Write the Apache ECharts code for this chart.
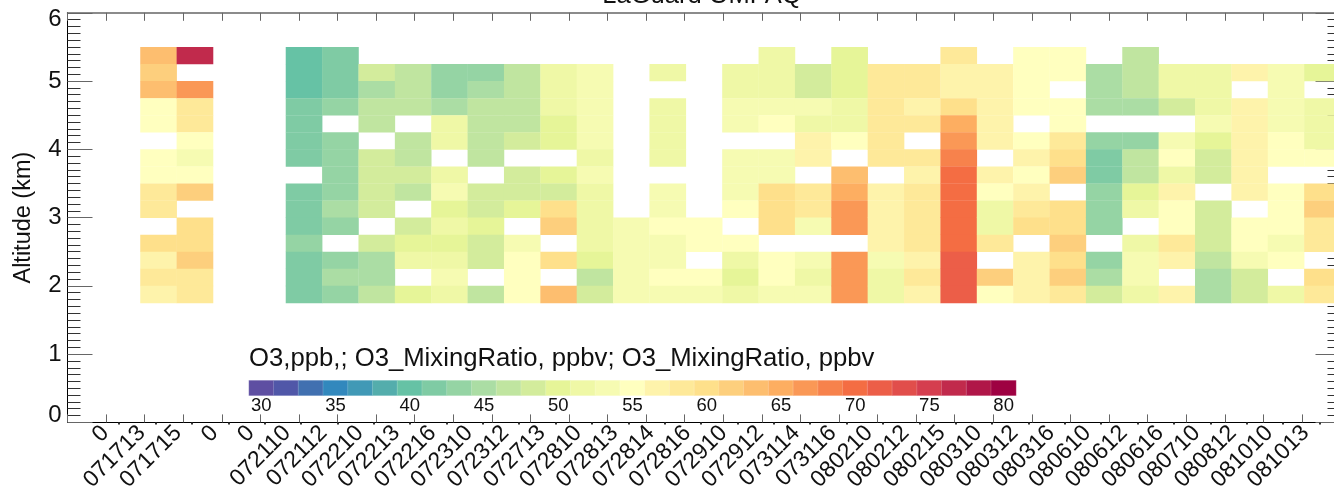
<!DOCTYPE html>
<html><head><meta charset="utf-8">
<style>html,body{margin:0;padding:0;background:#fff;overflow:hidden}#c{width:1334px;height:491px}</style>
<script src="https://cdn.jsdelivr.net/npm/echarts@6/dist/echarts.min.js"></script>
</head><body><div id="c"></div>
<script>
const FONT = '"Liberation Sans", Arial, sans-serif';
const titleText = 'LaGuard OMPAQ';
const colorbarTitle = 'O3,ppb,; O3_MixingRatio, ppbv; O3_MixingRatio, ppbv';
const yName = 'Altitude (km)';
const dates = ['', '0', '071713', '071715', '0', '0', '072110', '072112', '072210', '072213', '072216', '072310', '072312', '072713', '072810', '072813', '072814', '072816', '072910', '072912', '073114', '073116', '080210', '080212', '080215', '080310', '080312', '080316', '080610', '080612', '080616', '080710', '080812', '081010', '081013'];
// Altitude of the row centres, top row first (km)
const altitudes = [5.375, 5.125, 4.875, 4.625, 4.375, 4.125, 3.875, 3.625, 3.375, 3.125, 2.875, 2.625, 2.375, 2.125, 1.875];
const rowHeightKm = 0.25;
const n = null;
// O3 (ppbv) by profile, top row first
const c071713 = [63.3, 61.7, 63.3, 55, 55, n, 55, 55, 58.3, 58.3, n, 60, 56.7, 58.3, 56.7];
const c071715 = [76.7, n, 66.7, 58.3, 58.3, 55, 53.3, 55, 61.7, n, 60, 60, 61.7, 58.3, 58.3];
const c072110 = [40, 40, 40, 41.7, 41.7, 41.7, 41.7, n, 41.7, 41.7, 41.7, 43.3, 41.7, 41.7, 41.7];
const c072112 = [41.7, 41.7, 41.7, 43.3, n, 43.3, 43.3, 43.3, 43.3, 45, 43.3, n, 43.3, 45, 43.3];
const c072210 = [n, 48.3, 45, 46.7, 46.7, n, 48.3, 48.3, 48.3, 48.3, n, 48.3, 45, 45, 46.7];
const c072213 = [n, 46.7, 46.7, 46.7, n, 46.7, 46.7, 48.3, 46.7, n, 48.3, 50, 51.7, n, 50];
const c072216 = [n, 43.3, 43.3, 45, 51.7, 51.7, n, 51.7, 53.3, 50, 51.7, 50, 51.7, 53.3, 51.7];
const c072310 = [n, 43.3, 45, 46.7, 46.7, 46.7, 46.7, n, 48.3, 48.3, 50, 48.3, 48.3, n, 46.7];
const c072312 = [n, 46.7, 46.7, 46.7, 46.7, 48.3, n, 48.3, 48.3, 50, n, 53.3, 55, 55, 55];
const c072713 = [n, 51.7, 51.7, 51.7, 50, 50, n, 50, 48.3, 60, 61.7, n, 60, n, 63.3];
const c072810 = [n, 53.3, 53.3, 53.3, 53.3, 53.3, 51.7, 53.3, 51.7, 51.7, 51.7, 51.7, 50, 46.7, 48.3];
const c072813 = [n, n, n, n, n, n, n, n, n, n, 53.3, 53.3, 53.3, 53.3, 53.3];
const c072814 = [n, 51.7, n, 51.7, 51.7, 51.7, 51.7, n, 53.3, 53.3, 55, 53.3, 53.3, 55, 53.3];
const c072816 = [n, n, n, n, n, n, n, n, n, n, 55, 55, n, 55, 53.3];
const c072910 = [n, 51.7, 51.7, 53.3, 53.3, n, 53.3, 53.3, 53.3, 55, n, 55, 51.7, 50, 51.7];
const c072912 = [51.7, 51.7, 51.7, 53.3, 55, n, 53.3, 53.3, 60, 60, 60, n, 55, 55, 53.3];
const c073114 = [n, 48.3, 48.3, 53.3, 51.7, 56.7, 56.7, n, 58.3, 58.3, 53.3, n, 52.5, 51.7, 53.3];
const c073116 = [50, 50, 50, 51.7, 51.7, 55, n, 63.3, 65, 66.7, 66.7, n, 66.7, 66.7, 66.7];
const c080210 = [n, 58.3, 58.3, 58.3, 58.3, 58.3, 58.3, n, 56.7, 56.7, 56.7, 56.7, 53.3, 51.7, 51.7];
const c080212 = [n, 58.3, 58.3, 56.7, 58.3, n, 58.3, 56.7, 58.3, 58.3, 58.3, 58.3, 56.7, 58.3, 56.7];
const c080215 = [58.3, 56.7, 56.7, 60, 65, 66.7, 68.3, 70, 70, 70, 70, 70, 71.7, 71.7, 71.7];
const c080310 = [n, 56.7, 56.7, 56.7, 56.7, 56.7, n, 56.7, 55, 51.7, 51.7, 58.3, n, 61.7, 55];
const c080312 = [55, 55, 55, 55, n, 55, 56.7, 55, 56.7, 58.3, 60, n, 56.7, 56.7, 56.7];
const c080316 = [55, 55, n, 55, 55, 58.3, 60, 61.7, n, 60, 60, 61.7, 60, 61.7, 58.3];
const c080610 = [n, 45, 45, 45, n, 43.3, 41.7, 41.7, 43.3, 43.3, 43.3, n, 43.3, 45, 48.3];
const c080612 = [46.7, 46.7, 46.7, 45, n, 43.3, 46.7, 46.7, 50, 51.7, n, 51.7, 53.3, 53.3, 51.7];
const c080616 = [n, 51.7, 51.7, 48.3, n, 53.3, 55, 51.7, 56.7, 55, 55, 58.3, 56.7, n, 56.7];
const c080710 = [n, 51.7, 51.7, 51.7, 53.3, 50, 48.3, 48.3, n, 48.3, 48.3, 48.3, 46.7, 45, 45];
const c080812 = [n, 56.7, n, 56.7, 56.7, 56.7, 56.7, 56.7, 56.7, n, 55, 55, 53.3, 48.3, 48.3];
const c081010 = [n, 53.3, 53.3, 53.3, 53.3, 55, 55, n, 55, 55, 55, 53.3, 55, n, 51.7];
const c081013 = [n, 50, n, 51.7, 51.7, 51.7, 55, n, 60, 61.7, 58.3, 58.3, n, 60, 58.3];
// Column index of each profile on the band axis
const profiles = [
  [2, c071713], [3, c071715], [6, c072110], [7, c072112],
  [8, c072210], [9, c072213], [10, c072216], [11, c072310],
  [12, c072312], [13, c072713], [14, c072810], [15, c072813],
  [16, c072814], [17, c072816], [18, c072910], [19, c072912],
  [20, c073114], [21, c073116], [22, c080210], [23, c080212],
  [24, c080215], [25, c080310], [26, c080312], [27, c080316],
  [28, c080610], [29, c080612], [30, c080616], [31, c080710],
  [32, c080812], [33, c081010], [34, c081013]
];
// Colour bar
const barMin = 30, barStep = 5 / 3;
const barColors = ['#5e4fa2','#5057a8','#4170b0','#3288bd','#4199b6','#54adac','#66c2a5','#7fcba4','#95d4a4','#abdda4','#c0e5a0','#d3ec9c','#e6f598','#eff8a6','#f6fbb2','#ffffbf','#fef3ab','#fee999','#fee08b','#fdcf7d','#fdbe6f','#fdae61','#fa9856','#f7824c','#f46d43','#ec5e48','#e14e4b','#d53e4f','#c12a4c','#b01648','#9e0142'];
const barLevels = barColors.map((_, i) => i);
const barLabels = barLevels.map(i => i % 3 === 0 ? String(Math.round(barMin + i * barStep)) : '');
const colorOf = v => barColors[Math.max(0, Math.min(30, Math.round((v - barMin) / barStep)))];

const cells = [];
profiles.forEach(([k, vals]) => vals.forEach((v, r) => { if (v !== null) cells.push([k + 0.5, altitudes[r], v]); }));

const NB = dates.length;
const labelShift = 0.04;
const dotPos = dates.map((_, k) => k + 0.42).slice(1);
const labelPos = dates.map((_, k) => k + labelShift).slice(1);
const L = 67.5, W = 1273, TOP = 12.8, H = 409.6;
const soft = '#666';
const textCol = '#111';
const chart = echarts.init(document.getElementById('c'), null, {renderer: 'canvas'});
chart.setOption({
  animation: false,
  backgroundColor: '#fff',
  textStyle: {fontFamily: FONT},
  title: [
    {text: titleText, left: 697, textAlign: 'center', top: -22, textStyle: {fontSize: 25.5, fontWeight: 'normal', color: textCol, fontFamily: FONT}},
    {text: colorbarTitle, left: 249, top: 346, padding: 0, textStyle: {fontSize: 25.7, fontWeight: 'normal', color: textCol, fontFamily: FONT}}
  ],
  grid: [
    {left: L, top: TOP, width: W, height: H, outerBoundsMode: 'none', containLabel: false},
    {left: 249, top: 380.5, width: 767, height: 15, outerBoundsMode: 'none', containLabel: false}
  ],
  xAxis: [
    {type: 'value', gridIndex: 0, min: 0, max: NB, position: 'bottom', splitLine: {show: false},
     axisLine: {show: true, onZero: false, lineStyle: {color: '#000', width: 1}},
     axisTick: {show: true, customValues: dotPos, length: 2, lineStyle: {color: '#333', width: 2}},
     axisLabel: {show: true, customValues: labelPos, rotate: 45, margin: 7, fontSize: 23, color: textCol, fontFamily: FONT,
                 formatter: v => dates[Math.round(v - labelShift)] }},
    {type: 'value', gridIndex: 0, min: 0, max: 33, interval: 1, position: 'bottom', splitLine: {show: false},
     axisLine: {show: false, onZero: false}, axisLabel: {show: false},
     axisTick: {show: true, inside: true, length: 8, lineStyle: {color: soft, width: 1}}},
    {type: 'value', gridIndex: 0, min: 0, max: 33, interval: 1, position: 'top', splitLine: {show: false},
     axisLine: {show: true, onZero: false, lineStyle: {color: soft, width: 1.5}}, axisLabel: {show: false},
     axisTick: {show: true, inside: true, length: 8, lineStyle: {color: soft, width: 1}}},
    {type: 'category', gridIndex: 1, data: barLabels, position: 'bottom',
     axisLine: {show: false}, axisTick: {show: false}, splitLine: {show: false},
     axisLabel: {interval: 0, margin: 1, fontSize: 18.5, color: textCol, fontFamily: FONT}}
  ],
  yAxis: [
    {type: 'value', gridIndex: 0, min: 0, max: 6, interval: 1, position: 'left', splitLine: {show: false},
     name: yName, nameLocation: 'middle', nameGap: 32, nameTextStyle: {fontSize: 23.5, color: textCol, fontFamily: FONT},
     axisLine: {show: true, onZero: false, lineStyle: {color: '#000', width: 1}},
     axisTick: {show: true, inside: true, length: 25, lineStyle: {color: soft, width: 1}},
     minorTick: {show: true, splitNumber: 10, length: 13, lineStyle: {color: '#333', width: 1}},
     axisLabel: {fontSize: 24, lineHeight: 14, margin: 6, color: textCol, fontFamily: FONT, verticalAlignMinLabel: 'bottom', verticalAlignMaxLabel: 'top'}},
    {type: 'value', gridIndex: 0, min: 0, max: 6, interval: 1, position: 'right', splitLine: {show: false},
     axisLine: {show: true, onZero: false, lineStyle: {color: '#000', width: 1}},
     axisTick: {show: true, inside: true, length: 25, lineStyle: {color: soft, width: 1}},
     minorTick: {show: true, splitNumber: 10, length: 13, lineStyle: {color: '#333', width: 1}},
     axisLabel: {show: false}},
    {type: 'category', gridIndex: 1, data: ['O3'], show: false}
  ],
  series: [
    {type: 'custom', coordinateSystem: 'cartesian2d', xAxisIndex: 0, yAxisIndex: 0, silent: true, clip: true,
     encode: {x: 0, y: 1}, data: cells,
     renderItem: (params, api) => {
       const c = api.coord([api.value(0), api.value(1)]);
       const s = api.size([1, rowHeightKm]);
       return {type: 'rect', shape: {x: c[0] - s[0] / 2, y: c[1] - s[1] / 2, width: s[0] + 0.3, height: s[1] + 0.3},
               style: {fill: colorOf(api.value(2))}};
     }},
    {type: 'heatmap', xAxisIndex: 3, yAxisIndex: 2, silent: true,
     data: barLevels.map(i => ({value: [i, 0, i], itemStyle: {color: barColors[i], borderColor: 'rgba(255,255,255,0.35)', borderWidth: 0.5}})),
     label: {show: false}}
  ]
});
</script></body></html>
